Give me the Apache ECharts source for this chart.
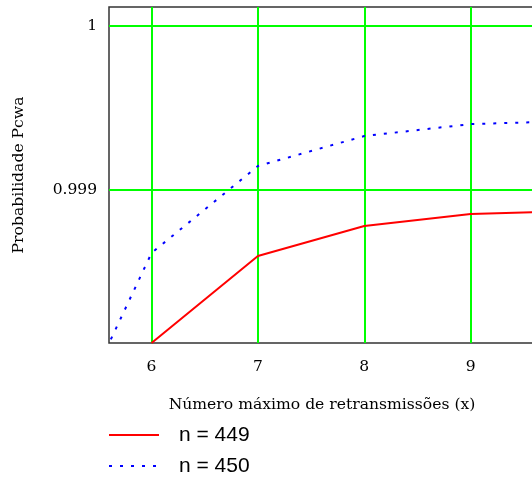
<!DOCTYPE html>
<html>
<head>
<meta charset="utf-8">
<script src="https://cdn.jsdelivr.net/npm/echarts@6/dist/echarts.min.js"></script>
<style>html,body{margin:0;padding:0;background:#fff}#c{width:532px;height:480px}</style>
</head>
<body>
<div id="c"></div>
<script>
// Data
const xValues = [5, 6, 7, 8, 9, 10];
const n449 = [null, 0.998067, 0.998598, 0.998780, 0.998854, 0.998872];
const n450 = [0.99724, 0.998616, 0.999146, 0.999329, 0.999402, 0.999421];
const xTicks = [6, 7, 8, 9, 10];
const yTicks = [0.999, 1];
const seriesNames = ['n = 449', 'n = 450'];

const pairs = (ys) => xValues.map((x, i) => [x, ys[i]]).filter(p => p[1] !== null);

const serif = 'DejaVu Serif';
const chart = echarts.init(document.getElementById('c'), null, {renderer: 'canvas'});
chart.setOption({
  animation: false,
  backgroundColor: '#fff',
  grid: {
    left: 109, top: 7, bottom: 137, right: -45,
    outerBoundsMode: 'none', containLabel: false,
    show: true, borderColor: '#333', borderWidth: 1.5, backgroundColor: 'transparent'
  },
  xAxis: {
    type: 'value', min: 5.6, max: 10,
    name: 'Número máximo de retransmissões (x)',
    nameLocation: 'middle', nameGap: 54,
    nameTextStyle: {fontFamily: serif, fontSize: 15.6, color: '#000', padding: [0, 42, 0, 0]},
    axisLine: {show: false},
    axisTick: {show: false, customValues: xTicks},
    axisLabel: {customValues: xTicks, fontFamily: serif, fontSize: 15.5, color: '#000', margin: 16},
    splitLine: {show: true, lineStyle: {color: '#00ff00', width: 2}}
  },
  yAxis: {
    type: 'value', min: 0.998067, max: 1.000116,
    name: 'Probabilidade Pcwa',
    nameLocation: 'middle', nameGap: 82,
    nameTextStyle: {fontFamily: serif, fontSize: 15.6, color: '#000'},
    axisLine: {show: false},
    axisTick: {show: false, customValues: yTicks},
    axisLabel: {customValues: yTicks, fontFamily: serif, fontSize: 15.5, color: '#000', margin: 12},
    splitLine: {show: true, lineStyle: {color: '#00ff00', width: 2}}
  },
  legend: {
    orient: 'vertical', left: 108, top: 423, height: 70, padding: 0,
    itemWidth: 50, itemHeight: 14, itemGap: 7,
    itemStyle: {opacity: 0},
    textStyle: {fontFamily: 'Liberation Sans', fontSize: 21, color: '#000', lineHeight: 24, padding: [0, 0, 0, 15]},
    data: seriesNames
  },
  series: [
    {
      name: seriesNames[0], type: 'line', data: pairs(n449),
      symbol: 'circle', showSymbol: false, clip: true,
      lineStyle: {color: '#ff0000', width: 2},
      itemStyle: {color: '#ff0000'}
    },
    {
      name: seriesNames[1], type: 'line', data: pairs(n450),
      symbol: 'circle', showSymbol: false, clip: true,
      lineStyle: {color: '#0000ff', width: 2, type: [3, 8]},
      itemStyle: {color: '#0000ff'}
    }
  ]
});
</script>
</body>
</html>
